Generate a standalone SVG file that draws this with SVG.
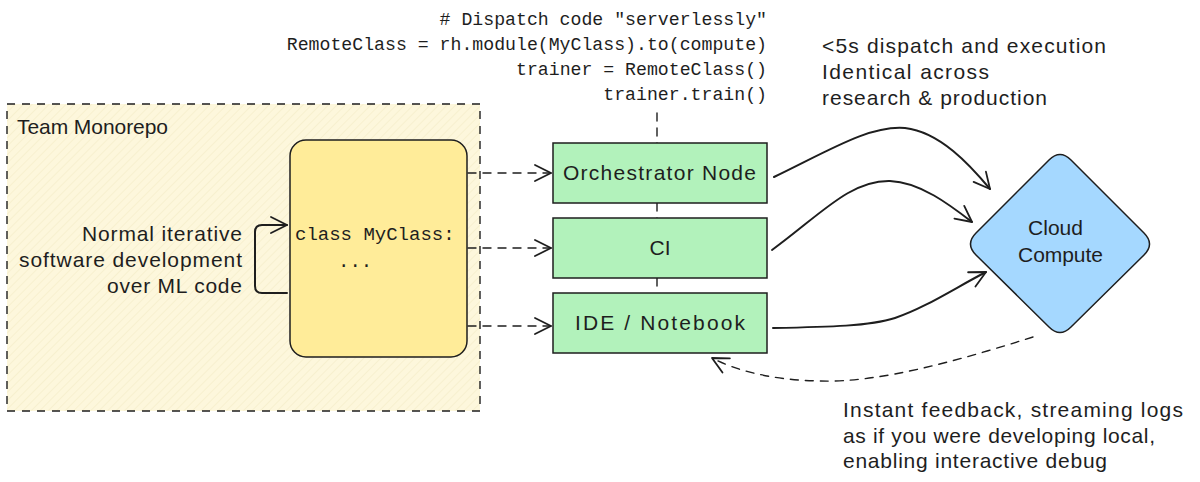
<svg xmlns="http://www.w3.org/2000/svg" width="1200" height="482" viewBox="0 0 1200 482">
<style>
.hand{font-family:"Liberation Sans","DejaVu Sans",sans-serif;font-size:21px;fill:#1e1e1e}
.mono{font-family:"Liberation Mono","DejaVu Sans Mono",monospace;fill:#1e1e1e}
.edge{fill:none;stroke:#1e1e1e;stroke-width:2;stroke-linecap:round}
.dash{stroke-dasharray:8 7;stroke-width:1.4}
.box{stroke:#1e1e1e;stroke-width:1.5}
</style>
<defs>
<pattern id="hatch" width="6" height="6" patternUnits="userSpaceOnUse" patternTransform="rotate(45)">
<rect width="6" height="6" fill="#fdf7dc"/>
<line x1="0" y1="0" x2="0" y2="6" stroke="#f4ecc6" stroke-width="1.2"/>
</pattern>
<marker id="arr" viewBox="0 0 20 20" refX="18" refY="10" markerWidth="20" markerHeight="20" markerUnits="userSpaceOnUse" orient="auto">
<path d="M2 2 L18 10 L2 18" fill="none" stroke="#1e1e1e" stroke-width="1.8" stroke-linecap="round" stroke-linejoin="round"/>
</marker>
</defs>
<rect width="1200" height="482" fill="#ffffff"/>

<g id="team-monorepo">
<rect x="7" y="104" width="473" height="307" fill="url(#hatch)" stroke="#1e1e1e" stroke-width="1.4" stroke-dasharray="8 7"/>
<text class="hand" x="17" y="134" font-size="18" textLength="151">Team Monorepo</text>
</g>

<g id="code-label">
<text class="mono" font-size="18.2" text-anchor="end" x="767" y="25"># Dispatch code "serverlessly"</text>
<text class="mono" font-size="18.2" text-anchor="end" x="767" y="50">RemoteClass = rh.module(MyClass).to(compute)</text>
<text class="mono" font-size="18.2" text-anchor="end" x="767" y="75">trainer = RemoteClass()</text>
<text class="mono" font-size="18.2" text-anchor="end" x="767" y="100">trainer.train()</text>
</g>

<g id="connectors">
<path class="edge dash" d="M657 113 L657 293"/>
<path class="edge" d="M287 293 L262 293 Q255 293 255 286 L255 232 Q255 225 262 225 L287 225" marker-end="url(#arr)"/>
<path class="edge dash" d="M468 173 L551 173" marker-end="url(#arr)"/>
<path class="edge dash" d="M468 248 L551 248" marker-end="url(#arr)"/>
<path class="edge dash" d="M468 326 L551 326" marker-end="url(#arr)"/>
<path class="edge" d="M774 177 C830 150 870 125 905 128 C940 132 970 165 990 189" marker-end="url(#arr)"/>
<path class="edge" d="M772 250 C820 215 850 180 890 181 C920 182 950 205 972 222" marker-end="url(#arr)"/>
<path class="edge" d="M773 328 C830 327 870 326 895 318 C925 308 955 288 986 272" marker-end="url(#arr)"/>
<path class="edge dash" d="M1033 337 C960 360 880 383 820 381 C770 380 735 370 712 358" marker-end="url(#arr)"/>
</g>

<g id="myclass">
<rect class="box" x="290" y="140" width="177" height="217" rx="16" fill="#ffec99"/>
<text class="mono" x="295" y="240" font-size="19">class MyClass:</text>
<text class="mono" x="338" y="267" font-size="19">...</text>
</g>

<g id="loop-label">
<text class="hand" x="82" y="241" textLength="160">Normal iterative</text>
<text class="hand" x="19" y="267" textLength="223">software development</text>
<text class="hand" x="107" y="293" textLength="135">over ML code</text>
</g>

<g id="orchestrator">
<rect class="box" x="553" y="143" width="214" height="60" fill="#b2f2bb"/>
<text class="hand" x="563" y="180" textLength="193">Orchestrator Node</text>
</g>
<g id="ci">
<rect class="box" x="553" y="218" width="214" height="60" fill="#b2f2bb"/>
<text class="hand" x="660" y="255" text-anchor="middle">CI</text>
</g>
<g id="ide">
<rect class="box" x="553" y="293" width="214" height="60" fill="#b2f2bb"/>
<text class="hand" x="575" y="330" textLength="170">IDE / Notebook</text>
</g>

<g id="cloud-compute">
<path class="box" d="M1049 160 Q1060 149 1071 160 L1144 233 Q1155 244 1144 255 L1071 327 Q1060 338 1049 327 L976 255 Q965 244 976 233 Z" fill="#a5d8ff"/>
<text class="hand" x="1028" y="235" textLength="55">Cloud</text>
<text class="hand" x="1018" y="262" textLength="85">Compute</text>
</g>

<g id="dispatch-label">
<text class="hand" x="822" y="53" textLength="284">&lt;5s dispatch and execution</text>
<text class="hand" x="822" y="79" textLength="167">Identical across</text>
<text class="hand" x="822" y="105" textLength="225">research &amp; production</text>
</g>

<g id="feedback-label">
<text class="hand" x="843" y="417" textLength="340">Instant feedback, streaming logs</text>
<text class="hand" x="843" y="443" textLength="312">as if you were developing local,</text>
<text class="hand" x="843" y="468" textLength="264">enabling interactive debug</text>
</g>
</svg>
